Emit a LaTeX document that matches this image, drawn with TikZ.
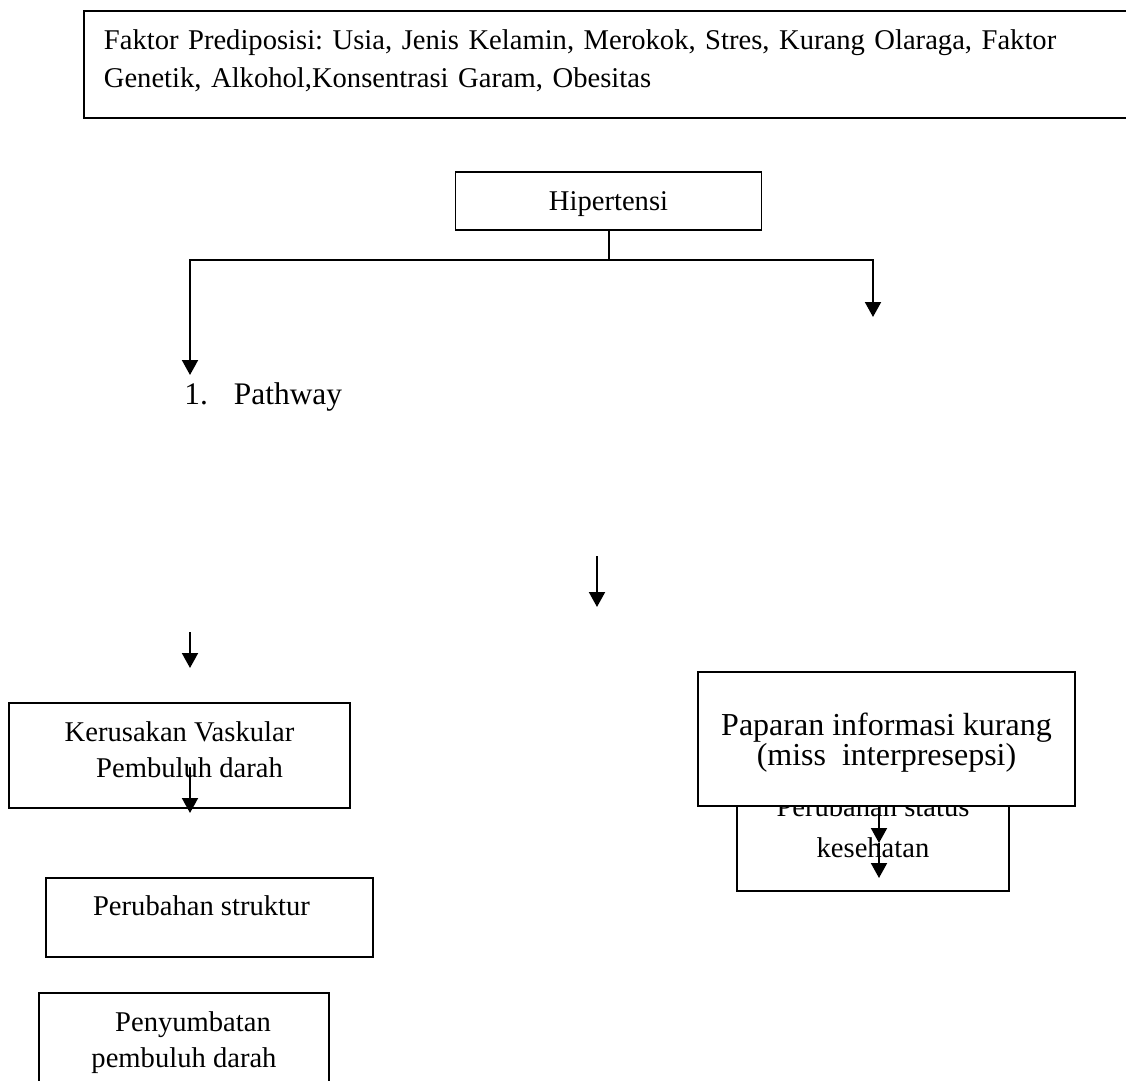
\documentclass[tikz,border=0pt]{standalone}
\usepackage{fontspec}
\setmainfont{Liberation Serif}
\usepackage{tikz}
\usetikzlibrary{positioning, arrows.meta, calc}
\frenchspacing

\begin{document}
\begin{tikzpicture}[
    x=0.5pt, y=-0.5pt,
    box/.style={draw, line width=0.9pt, align=center, inner sep=2pt, font=\fontsize{14.3}{18}\selectfont},
    flow/.style={-{Triangle[width=8pt, length=7.5pt]}, line width=1pt}
]
\clip (0,0) rectangle (1126,1081);

% Faktor predisposisi
\node[box, anchor=north west, align=left, inner xsep=10pt, text width=510pt,
      minimum height=53.5pt, text depth=25.3pt, font=\fontsize{14.3}{19}\selectfont] (faktor) at (83,10.5)
    {Faktor Prediposisi: Usia, Jenis Kelamin, Merokok, Stres, Kurang Olaraga, Faktor\\
     Genetik, Alkohol,Konsentrasi Garam, Obesitas};

% Hipertensi
\node[box, minimum width=153pt, minimum height=29pt, text depth=-1.5pt] (hyp) at (608.5,201) {Hipertensi};

\coordinate (forkL) at (190,260);
\coordinate (forkR) at (873,260);
\coordinate (endL) at (190,375);
\coordinate (endR) at (873,317);
\draw[flow] (hyp.south) |- (forkL) -- (endL);
\draw[flow] (hyp.south) |- (forkR) -- (endR);

\node[anchor=west, inner sep=0pt, font=\fontsize{15.7}{18}\selectfont] (pathway) at (184,397)
    {1.\hspace{13pt}Pathway};

% Panah lepas
\coordinate (midA) at (597,556);
\coordinate (midB) at (597,607);
\draw[flow] (midA) -- (midB);
\coordinate (leftA) at (190,632);
\coordinate (leftB) at (190,668);
\draw[flow] (leftA) -- (leftB);

% Cabang kiri
\node[box, minimum width=170.5pt, minimum height=52.5pt, text depth=5.8pt] (kerus) at (179.5,755.5)
    {Kerusakan Vaskular\\\hspace*{10pt}Pembuluh darah};
\coordinate (kerusA) at (190,767);
\coordinate (kerusB) at (190,813);
\draw[flow] (kerusA) -- (kerusB);

\node[box, minimum width=163.5pt, minimum height=39.5pt, text depth=11.9pt] (struk) at (209.5,917.5)
    {\hspace*{-8pt}Perubahan struktur};

\node[box, minimum width=145pt, minimum height=47pt, text depth=0.4pt] (sumbat) at (184,1040)
    {\hspace*{9pt}Penyumbatan\\pembuluh darah};

% Cabang kanan
\node[box, minimum width=136pt, minimum height=60.5pt, text depth=3.4pt,
      font=\fontsize{14.3}{20.5}\selectfont] (status) at (873,830.5)
    {Perubahan status\\kesehatan};

\node[box, fill=white, minimum width=188.5pt, minimum height=67pt, text depth=-3.7pt,
      font=\fontsize{16}{15}\selectfont] (paparan) at (886.5,739)
    {Paparan informasi kurang\\(miss\ \ interpresepsi)};

\coordinate (papA) at (879,806);
\coordinate (papB) at (879,843);
\coordinate (papC) at (879,878);
\draw[flow] (papA) -- (papB);
\draw[flow] (papB) -- (papC);

\end{tikzpicture}
\end{document}
